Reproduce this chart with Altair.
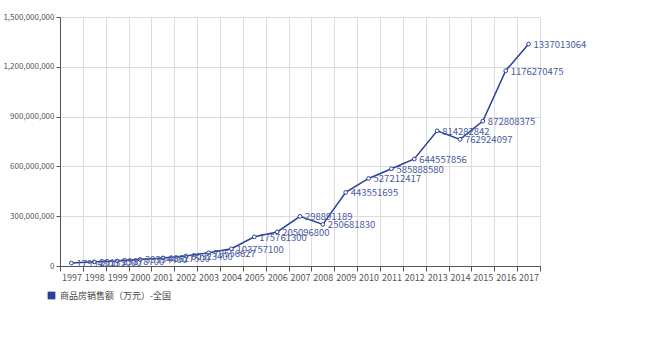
import altair as alt
import pandas as pd

years = [str(y) for y in range(1997, 2018)]
values = [17994800, 25133000, 29878700, 39354400, 48627500, 60323400, 79556627,
          103757100, 175761300, 205096800, 298891189, 250681830, 443551695,
          527212417, 585888580, 644557856, 814282842, 762924097, 872808375,
          1176270475, 1337013064]
series_name = "商品房销售额（万元）-全国"
y_ticks = [0, 300000000, 600000000, 900000000, 1200000000, 1500000000]

df = pd.DataFrame({"year": years, "value": values, "series": series_name})
df["label"] = df["value"].astype(str)

color = "#26409c"
font = "Noto Sans CJK SC"

x = alt.X("year:O",
          scale=alt.Scale(type="band", domain=years, paddingInner=0, paddingOuter=0),
          axis=alt.Axis(title=None, grid=True, tickBand="extent", labelAngle=0,
                        labelOverlap=False, labelPadding=2, tickSize=5,
                        labelFontSize=9))
y = alt.Y("value:Q",
          scale=alt.Scale(domain=[0, 1500000000], nice=False),
          axis=alt.Axis(values=y_ticks, format=",.0f", title=None, grid=True,
                        tickSize=4, labelPadding=2, labelFontSize=8))

base = alt.Chart(df)

line = base.mark_line(strokeWidth=1.5).encode(
    x=x, y=y,
    color=alt.Color("series:N",
                    scale=alt.Scale(domain=[series_name], range=[color]),
                    legend=alt.Legend(title=None, orient="none", legendX=-13, legendY=274,
                                      symbolType="square", symbolSize=60,
                                      symbolFillColor=color, symbolStrokeWidth=0,
                                      labelFont=font, labelFontSize=9,
                                      labelColor="#444444"))
)
pts = base.mark_point(shape="circle", filled=True, fill="white", stroke=color,
                      strokeWidth=1, size=14, opacity=1).encode(x=x, y=y)
text = base.mark_text(align="left", baseline="middle", dx=5, dy=1, fontSize=9.5,
                      font=font, color="#4a5a9e").encode(x=x, y=y, text="label:N")

chart = alt.layer(line, pts, text).properties(
    width=480, height=249,
    autosize=alt.AutoSizeParams(type="none"),
    padding={"left": 60, "top": 17, "right": 120, "bottom": 79},
).configure_axis(
    labelFont=font, labelColor="#555555",
    gridColor="#dcdcdc", domainColor="#555555", tickColor="#555555",
).configure_view(stroke=None)

chart.save("out.html", embed_options={"renderer": "svg", "actions": False})
